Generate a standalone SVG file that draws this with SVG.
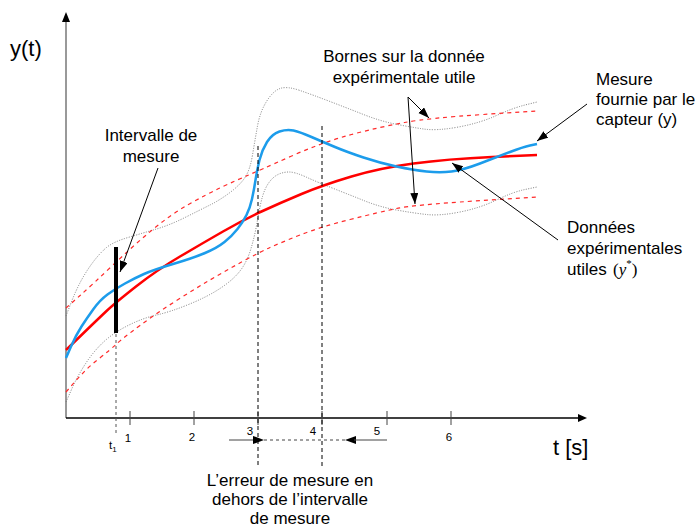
<svg xmlns="http://www.w3.org/2000/svg" width="698" height="531" viewBox="0 0 698 531">
<style>
text{font-family:"Liberation Sans",Arial,sans-serif;fill:#000}
.lbl{font-size:17px}
.tick{font-size:11.5px}
.big{font-size:22px}
.dot{fill:none;stroke:#7a7a7a;stroke-width:1;stroke-dasharray:1 1.5}
.rdash{fill:none;stroke:#ff2a2a;stroke-width:1.2;stroke-dasharray:4 4}
.red{fill:none;stroke:#ff0000;stroke-width:2.5}
.blue{fill:none;stroke:#1c9ceb;stroke-width:2.5}
.vdash{fill:none;stroke:#000;stroke-width:1;stroke-dasharray:4 3}
.ptr{fill:none;stroke:#000;stroke-width:1;marker-end:url(#ah)}
</style>
<defs>
<marker id="ah" markerUnits="userSpaceOnUse" markerWidth="12" markerHeight="10" refX="11" refY="4" orient="auto">
<path d="M0,0 L11,4 L0,8 z" fill="#000"/>
</marker>
</defs>
<rect width="698" height="531" fill="#fff"/>

<g id="axes">
<line x1="66" y1="418" x2="66" y2="20" stroke="#777" stroke-width="1.5"/>
<path d="M62,22 L66,12 L70,22 z" fill="#000"/>
<line x1="66" y1="418" x2="579" y2="418" stroke="#000" stroke-width="1.3"/>
<path d="M578,414 L587,418 L578,422 z" fill="#000"/>
<g stroke="#444" stroke-width="1">
<line x1="130" y1="411" x2="130" y2="425"/>
<line x1="194" y1="411" x2="194" y2="425"/>
<line x1="258" y1="411" x2="258" y2="425"/>
<line x1="322" y1="411" x2="322" y2="425"/>
<line x1="387" y1="411" x2="387" y2="425"/>
<line x1="451" y1="411" x2="451" y2="425"/>
</g>
<g text-anchor="middle">
<text class="tick" x="128" y="442">1</text>
<text class="tick" x="192" y="441">2</text>
<text class="tick" x="250" y="435">3</text>
<text class="tick" x="313" y="435">4</text>
<text class="tick" x="377" y="435">5</text>
<text class="tick" x="449" y="441">6</text>
</g>
<text class="tick" x="109" y="449">t<tspan font-size="8" dy="3">1</tspan></text>
<text class="big" x="10" y="56">y(t)</text>
<text class="big" x="553" y="455">t [s]</text>
</g>

<g id="curves">
<path class="dot" d="M66,316 L71,303 Q76,290 81.5,280 Q87,270 93.5,261.5 Q100,253 106.5,247.5 Q113,242 128,237.5 Q143,233 156.5,229 Q170,225 185,217.5 Q200,210 210,205 Q220,200 230,192.5 Q240,185 245,177.5 Q250,170 252.5,155 Q255,140 257.5,126 Q260,112 266.5,101.5 Q273,91 280,88.5 Q287,86 300,90.5 Q313,95 330,101.5 Q347,108 363.5,114.5 Q380,121 395,124 Q410,127 423.5,129 Q437,131 458.5,127 Q480,123 496.5,115.5 Q513,108 525,105 L537,102"/>
<path class="dot" d="M66,402 L71.5,389.5 Q77,377 85,364.5 Q93,352 103,342.5 Q113,333 128,325.5 Q143,318 156.5,315 Q170,312 188.5,304.5 Q207,297 220,288.5 Q233,280 240,271 Q247,262 251,248.5 Q255,235 257.5,220 Q260,205 262.5,196.5 Q265,188 269,182.5 Q273,177 278,174.5 Q283,172 289,172 Q295,172 306,177 Q317,182 333.5,188.5 Q350,195 365,201 Q380,207 396.5,210 Q413,213 426.5,214.5 Q440,216 460,212 Q480,208 496.5,200 Q513,192 525,189.5 L537,187"/>
<path class="rdash" d="M66,308 L79.5,296 Q93,284 113,265 Q133,246 151.5,230.5 Q170,215 188.5,204.5 Q207,194 222,187 Q237,180 247.5,175.5 Q258,171 290.5,156.5 Q323,142 351.5,134.5 Q380,127 404.5,122.5 Q429,118 483,114.5 L537,111"/>
<path class="rdash" d="M66,392 L76.5,380 Q87,368 98.5,359 Q110,350 116.5,344 Q123,338 140,325.5 Q157,313 175,301.5 Q193,290 210,280 Q227,270 243.5,261 Q260,252 270,247.5 Q280,243 300,235 Q320,227 350,219.5 Q380,212 396.5,208.5 Q413,205 475,201 L537,197"/>
<path class="red" d="M66,350 L81.5,335 Q97,320 106,311.5 Q115,303 136,286.5 Q157,270 180,256.5 Q203,243 223,231.5 Q243,220 261.5,211.5 Q280,203 301.5,194 Q323,185 351.5,176.5 Q380,168 413.5,163.5 Q447,159 492,157 L537,155"/>
<path class="blue" d="M66,358 L71,346.5 Q76,335 81.5,326.5 Q87,318 93.5,309 Q100,300 107.5,294.5 Q115,289 125,283.5 Q135,278 144,274 Q153,270 173,264 Q193,258 205,253 Q217,248 224.5,242 Q232,236 237.5,229 Q243,222 246.5,215 Q250,208 252,199 Q254,190 255.5,180 Q257,170 259.5,160 Q262,150 267,142 Q272,134 279.5,131.5 Q287,129 293.5,130.5 Q300,132 311.5,137 Q323,142 335,147 Q347,152 363.5,157.5 Q380,163 396.5,166.5 Q413,170 426.5,171.5 Q440,173 451.5,171.5 Q463,170 480,163.5 Q497,157 510,152 Q523,147 530,145.5 L537,144"/>
</g>

<g id="interval-markers">
<rect x="114" y="247" width="4" height="86" fill="#000"/>
<line x1="116" y1="334" x2="116" y2="434" stroke="#555" stroke-width="1" stroke-dasharray="3 3"/>
<line class="vdash" x1="258" y1="146" x2="258" y2="468"/>
<line class="vdash" x1="322" y1="126" x2="322" y2="466"/>
</g>

<g id="connectors">
<path class="ptr" d="M158,168 L120,272"/>
<path class="ptr" d="M408,97 L429,118"/>
<path class="ptr" d="M408,97 L415,204"/>
<path class="ptr" d="M587,104 L537,141"/>
<path class="ptr" d="M558,240 L452,163"/>
<line x1="229" y1="440" x2="256" y2="440" stroke="#444" stroke-width="1"/>
<path d="M253,436 L264,440 L253,444 z" fill="#000"/>
<line x1="264" y1="440" x2="345" y2="440" stroke="#444" stroke-width="1" stroke-dasharray="3 3"/>
<path d="M356,436 L345,440 L356,444 z" fill="#000"/>
<line x1="354" y1="440" x2="387" y2="440" stroke="#444" stroke-width="1"/>
</g>

<g id="label-intervalle">
<text class="lbl" x="151" y="141" text-anchor="middle">Intervalle de</text>
<text class="lbl" x="151" y="162" text-anchor="middle">mesure</text>
</g>
<g id="label-bornes">
<text class="lbl" x="404" y="62" text-anchor="middle">Bornes sur la donnée</text>
<text class="lbl" x="404" y="83" text-anchor="middle">expérimentale utile</text>
</g>
<g id="label-mesure">
<text class="lbl" x="596" y="85">Mesure</text>
<text class="lbl" x="596" y="105">fournie par le</text>
<text class="lbl" x="596" y="125">capteur (y)</text>
</g>
<g id="label-donnees">
<text class="lbl" x="567" y="233">Données</text>
<text class="lbl" x="567" y="254">expérimentales</text>
<text class="lbl" x="567" y="275">utiles <tspan font-family="Liberation Serif" x="613">(</tspan><tspan font-family="Liberation Serif" font-style="italic">y</tspan><tspan font-family="Liberation Serif" font-size="11" dy="-8">*</tspan><tspan font-family="Liberation Serif" dy="8">)</tspan></text>
</g>
<g id="label-erreur">
<text class="lbl" x="290" y="486" text-anchor="middle">L’erreur de mesure en</text>
<text class="lbl" x="290" y="505" text-anchor="middle">dehors de l’intervalle</text>
<text class="lbl" x="290" y="524" text-anchor="middle">de mesure</text>
</g>
</svg>
